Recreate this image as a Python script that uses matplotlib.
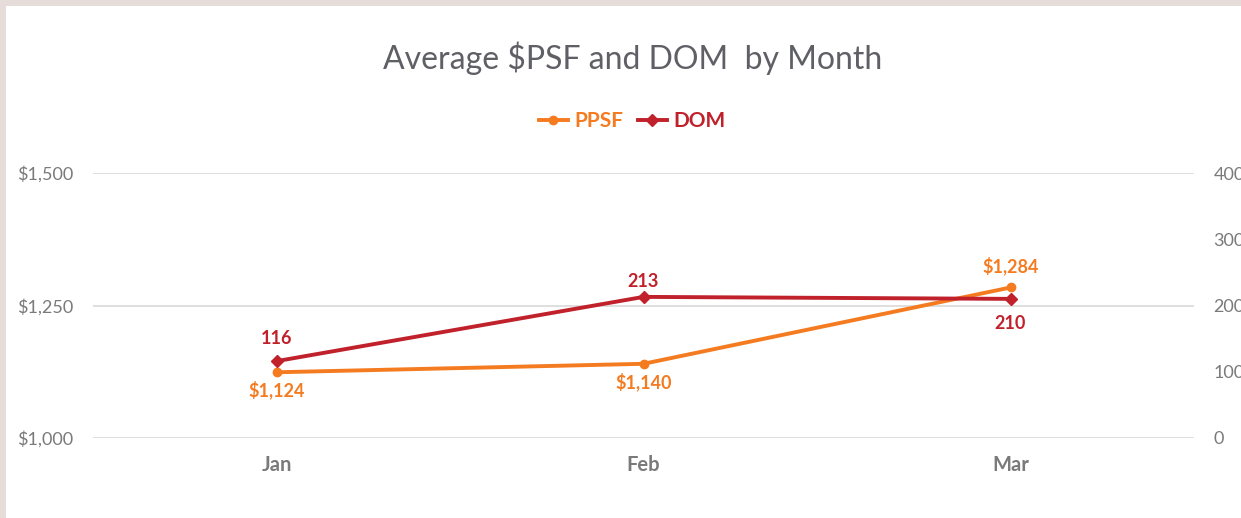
import matplotlib.pyplot as plt
from matplotlib.patches import Rectangle

months = ["Jan", "Feb", "Mar"]
ppsf = [1124, 1140, 1284]
dom = [116, 213, 210]

ppsf_color = "#F47B20"
dom_color = "#C0212B"
grey = "#7a7a7a"

plt.rcParams['font.family'] = ['Lato', 'DejaVu Sans']

fig = plt.figure(figsize=(12.41, 5.18), dpi=100)
fig.patch.set_facecolor("#e6dcda")
# white card inside the beige frame
fig.patches.append(Rectangle((6 / 1241, 0), 1, 1 - 6 / 518, transform=fig.transFigure,
                             facecolor="white", edgecolor="none", zorder=-10))

ax = fig.add_axes([93 / 1241, 1 - 438 / 518, (1194 - 93) / 1241, (438 - 173) / 518])
ax.set_facecolor("none")
ax2 = ax.twinx()

x = list(range(len(months)))
l1, = ax.plot(x, ppsf, color=ppsf_color, lw=2.8, marker="o", ms=6, label="PPSF", zorder=3)
l2, = ax2.plot(x, dom, color=dom_color, lw=2.8, marker="D", ms=6, label="DOM", zorder=3)

ax.set_xlim(-0.5, 2.5)
ax.set_ylim(1000, 1500)
ax.set_yticks([1000, 1250, 1500])
ax.set_yticklabels(["${:,}".format(v) for v in [1000, 1250, 1500]])
ax2.set_ylim(0, 400)
ax2.set_yticks([0, 100, 200, 300, 400])
ax.set_xticks(x)
ax.set_xticklabels(months, fontweight="bold")

ax.grid(axis="y", color="#d9d9d9", lw=1.2)
for a in (ax, ax2):
    for s in a.spines.values():
        s.set_visible(False)
    a.tick_params(length=0, labelsize=13, colors=grey)
ax.tick_params(axis="y", pad=14)
ax2.tick_params(axis="y", pad=14)
ax.tick_params(axis="x", pad=12, labelsize=14.5)

# data labels
ppsf_off = [-18, -18, 22]
dom_off = [23, 15, -25]
for i in x:
    ax.annotate("${:,}".format(ppsf[i]), (i, ppsf[i]), xytext=(0, ppsf_off[i]),
                textcoords="offset pixels", ha="center", va="center",
                color=ppsf_color, fontsize=13, fontweight="bold")
    ax2.annotate(str(dom[i]), (i, dom[i]), xytext=(0, dom_off[i]),
                 textcoords="offset pixels", ha="center", va="center",
                 color=dom_color, fontsize=13, fontweight="bold")

fig.text(633 / 1241, 1 - 58 / 518, "Average $PSF and DOM  by Month", ha="center", va="center",
         fontsize=23, color="#5f5f66")

leg = fig.legend(handles=[l1, l2], loc="center", bbox_to_anchor=(632 / 1241, 1 - 121 / 518),
                 ncol=2, frameon=False, fontsize=15, handlelength=1.4, columnspacing=0.7,
                 handletextpad=0.3)
for t, c in zip(leg.get_texts(), [ppsf_color, dom_color]):
    t.set_color(c)
    t.set_fontweight("bold")

fig.savefig("out.png", dpi=100, facecolor=fig.get_facecolor())
